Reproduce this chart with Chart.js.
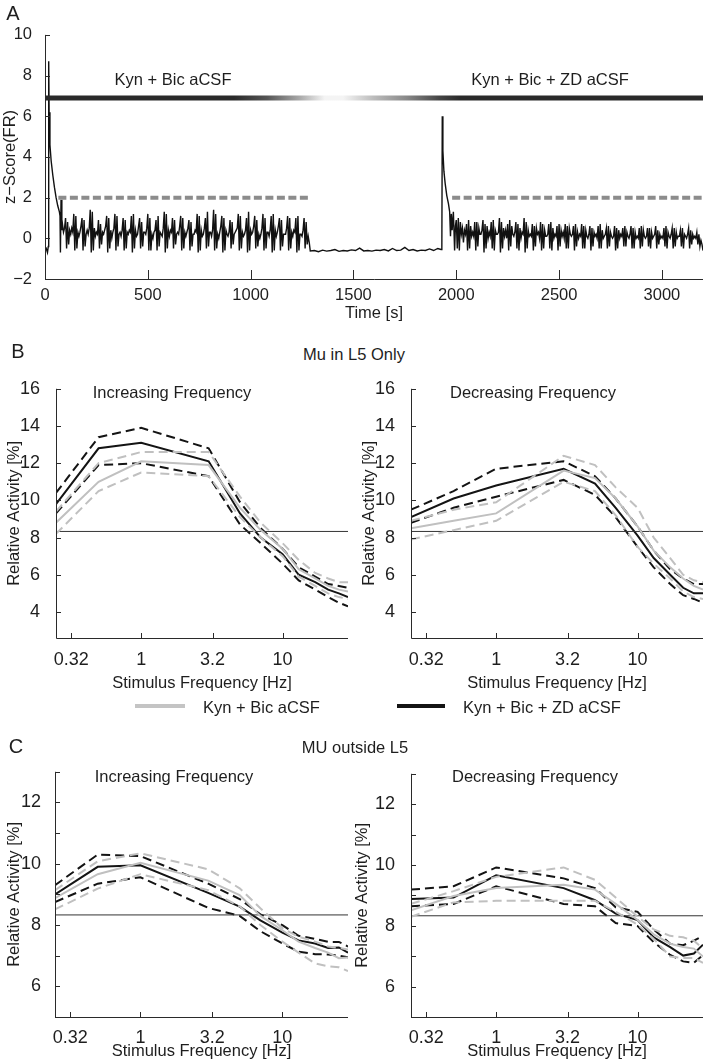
<!DOCTYPE html>
<html><head><meta charset="utf-8">
<script src="https://cdn.jsdelivr.net/npm/chart.js@4.4.1/dist/chart.umd.min.js"></script>
<style>
body{margin:0;background:#fff;}
#wrap{position:relative;width:704px;height:1063px;overflow:hidden;background:#fff;font-family:"Liberation Sans",Arial,sans-serif;color:#1e1e1e;}
canvas{position:absolute;}
.t{position:absolute;transform:translate(-50%,-50%);white-space:nowrap;font-size:16.5px;line-height:1;}
.lt{position:absolute;transform:translate(0,-50%);white-space:nowrap;font-size:16.5px;line-height:1;}
.sw{position:absolute;height:4px;transform:translate(0,-50%);}
.pl{position:absolute;transform:translate(-50%,-50%);font-size:20px;line-height:1;}
</style></head><body>
<div id="wrap">
  <canvas id="cA" width="704" height="310" style="left:0;top:20px"></canvas>
  <canvas id="cB1" width="352" height="330" style="left:0;top:370px"></canvas>
  <canvas id="cB2" width="352" height="330" style="left:352px;top:370px"></canvas>
  <canvas id="cC1" width="352" height="308" style="left:0;top:755px"></canvas>
  <canvas id="cC2" width="352" height="308" style="left:352px;top:755px"></canvas>

  <div class="pl" style="left:13px;top:13px">A</div>
  <div class="t" style="left:173px;top:79px">Kyn + Bic aCSF</div>
  <div class="t" style="left:550px;top:79px">Kyn + Bic + ZD aCSF</div>

  <div class="pl" style="left:18px;top:351px">B</div>
  <div class="t" style="left:354px;top:354px">Mu in L5 Only</div>
  <div class="t" style="left:172px;top:392px">Increasing Frequency</div>
  <div class="t" style="left:533px;top:392px">Decreasing Frequency</div>

  <div class="sw" style="left:135px;top:706px;width:50px;background:#c4c4c4"></div>
  <div class="lt" style="left:203px;top:707px">Kyn + Bic aCSF</div>
  <div class="sw" style="left:397px;top:706px;width:48px;background:#141414"></div>
  <div class="lt" style="left:463px;top:707px">Kyn + Bic + ZD aCSF</div>

  <div class="pl" style="left:16px;top:746px">C</div>
  <div class="t" style="left:355px;top:747px">MU outside L5</div>
  <div class="t" style="left:174px;top:776px">Increasing Frequency</div>
  <div class="t" style="left:535px;top:776px">Decreasing Frequency</div>
</div>
<script>
// ---------------- Panel A data ----------------
const timeTickVals = [0, 500, 1000, 1500, 2000, 2500, 3000];
const zTickVals = [-2, 0, 2, 4, 6, 8, 10];
const zTickLabels = ['\u22122', '0', '2', '4', '6', '8', '10'];
const barLevel = 6.9;
const barTimes = [0, 3200];
const thresholdLevel = 2;
const threshold1Times = [65, 1290];
const threshold2Times = [1980, 3200];

const onsetT = [0, 6, 12, 16, 18, 20, 24, 30, 38, 46, 54, 62, 70, 73, 75, 78, 82];
const onsetZ = [-0.6, -0.5, -0.7, -0.4, 8.7, 6.2, 4.6, 3.8, 3.1, 2.5, 2.0, 1.6, 1.3, 1.1, -0.7, 1.9, 0.4];
const burst1Start = 85, burst1Step = 5;
const burst1Z = [
  0.7, 0.3, 0.5, 1.0, -0.5, 0.8, -0.3, 0.4,   0.2, 0.5, 0.3, 1.2, -0.6, 1.1, -0.5, 0.3,
  0.1, 0.3, 0.6, 1.0, -0.6, 0.9, -0.4, 0.2,   0.4, 0.2, 0.5, 1.4, -0.7, 1.3, -0.6, 0.5,
  0.1, 0.3, 0.2, 0.9, -0.5, 0.7, -0.3, 0.3,   0.2, 0.4, 0.6, 1.1, -0.7, 1.0, -0.5, 0.4,
  0.0, 0.3, 0.5, 1.2, -0.6, 1.1, -0.4, 0.2,   0.3, 0.1, 0.4, 1.0, -0.6, 0.9, -0.5, 0.3,
  0.2, 0.4, 0.3, 1.1, -0.7, 1.2, -0.5, 0.4,   0.1, 0.2, 0.6, 1.0, -0.5, 0.8, -0.4, 0.3,
  0.3, 0.2, 0.5, 1.2, -0.6, 1.0, -0.6, 0.2,   0.0, 0.3, 0.4, 0.9, -0.6, 1.1, -0.4, 0.3,
  0.2, 0.1, 0.5, 1.3, -0.7, 1.2, -0.5, 0.4,   0.1, 0.4, 0.3, 1.0, -0.5, 0.9, -0.3, 0.2,
  0.3, 0.2, 0.6, 1.1, -0.6, 1.0, -0.5, 0.3,   0.1, 0.3, 0.5, 0.9, -0.6, 0.8, -0.4, 0.2,
  0.2, 0.4, 0.3, 1.2, -0.7, 1.1, -0.6, 0.4,   0.1, 0.2, 0.5, 1.0, -0.5, 1.3, -0.4, 0.3,
  0.3, 0.1, 0.4, 1.4, -0.6, 1.2, -0.5, 0.2,   0.0, 0.3, 0.6, 1.1, -0.7, 1.0, -0.6, 0.4,
  0.2, 0.1, 0.3, 0.9, -0.5, 0.8, -0.3, 0.2,   0.3, 0.4, 0.5, 1.2, -0.6, 1.1, -0.5, 0.3,
  0.1, 0.2, 0.4, 1.0, -0.7, 1.3, -0.6, 0.4,   0.2, 0.3, 0.6, 1.1, -0.5, 0.9, -0.4, 0.2,
  0.0, 0.2, 0.5, 1.2, -0.6, 1.0, -0.5, 0.3,   0.3, 0.1, 0.4, 1.1, -0.7, 1.2, -0.6, 0.4,
  0.1, 0.3, 0.6, 1.0, -0.6, 0.9, -0.4, 0.2,   0.2, 0.2, 0.5, 1.1, -0.6, 1.0, -0.5, 0.3,
  0.1, 0.4, 0.3, 1.0, -0.7, 1.1, -0.6, 0.2,   0.2, 0.1, 0.4, 1.0, -0.5, 0.8, -0.3, 0.1,
  -0.2];
const quietStart = 1290, quietStep = 20;
const quietZ = [-0.62, -0.6, -0.66, -0.58, -0.63, -0.6, -0.55, -0.64, -0.6, -0.62,
  -0.57, -0.6, -0.48, -0.62, -0.6, -0.63, -0.58, -0.6, -0.55, -0.62,
  -0.5, -0.6, -0.58, -0.45, -0.6, -0.55, -0.62, -0.58, -0.6, -0.52, -0.6, -0.5];
const spike2T = [1926, 1930, 1932, 1935, 1940, 1946, 1954, 1962, 1968, 1972, 1976, 1980, 1986, 1992, 1996];
const spike2Z = [-0.55, -0.5, 6.0, 4.3, 3.3, 2.7, 2.1, 1.7, 1.3, 0.1, 1.2, 0.4, 1.3, -0.6, 0.6];
const burst2Start = 2000, burst2Step = 5;
const burst2Z = [
  0.9, -0.5, 1.0, -0.6, 0.8, 0.2, 0.5, -0.2,   0.4, 0.2, 0.7, -0.6, 0.9, -0.5, 0.6, 0.1,
  0.3, 0.1, 0.8, -0.6, 0.8, -0.4, 0.5, 0.2,    0.2, 0.4, 0.9, -0.7, 0.7, -0.5, 0.6, 0.0,
  0.3, 0.1, 0.8, -0.5, 0.9, -0.6, 0.4, 0.2,    0.2, 0.3, 1.0, -0.7, 0.8, -0.5, 0.5, 0.1,
  0.4, 0.0, 0.7, -0.6, 0.9, -0.4, 0.6, 0.2,    0.1, 0.3, 0.8, -0.5, 0.7, -0.6, 0.5, 0.0,
  0.3, 0.2, 1.0, -0.7, 0.8, -0.5, 0.4, 0.1,    0.2, 0.1, 0.7, -0.6, 0.6, -0.4, 0.5, 0.2,
  0.3, 0.0, 0.8, -0.6, 0.7, -0.5, 0.4, 0.1,    0.1, 0.2, 0.7, -0.5, 0.8, -0.6, 0.5, 0.0,
  0.2, 0.1, 0.6, -0.6, 0.7, -0.4, 0.4, 0.1,    0.3, 0.0, 0.7, -0.5, 0.6, -0.5, 0.5, 0.2,
  0.1, 0.2, 0.6, -0.6, 0.7, -0.4, 0.3, 0.0,    0.2, 0.1, 0.7, -0.5, 0.6, -0.5, 0.4, 0.1,
  0.0, 0.2, 0.6, -0.6, 0.5, -0.4, 0.3, 0.1,    0.2, 0.0, 0.6, -0.5, 0.7, -0.5, 0.4, 0.0,
  0.1, 0.2, 0.5, -0.5, 0.6, -0.4, 0.3, 0.1,    0.0, 0.1, 0.6, -0.6, 0.5, -0.5, 0.4, 0.0,
  0.2, 0.1, 0.5, -0.4, 0.6, -0.4, 0.3, 0.1,    0.0, 0.2, 0.6, -0.5, 0.5, -0.5, 0.3, 0.0,
  0.1, 0.0, 0.5, -0.5, 0.6, -0.4, 0.4, 0.1,    0.0, 0.1, 0.5, -0.4, 0.5, -0.5, 0.3, 0.0,
  0.1, 0.2, 0.6, -0.5, 0.4, -0.3, 0.2, 0.0,    0.1, 0.0, 0.5, -0.4, 0.6, -0.5, 0.3, 0.1,
  0.0, 0.2, 0.5, -0.5, 0.5, -0.4, 0.3, 0.0,    0.1, 0.1, 0.4, -0.4, 0.5, -0.5, 0.2, 0.1,
  0.0, 0.2, 0.5, -0.5, 0.4, -0.3, 0.2, 0.0,    0.1, 0.0, 0.3, -0.3, 0.2, -0.4, -0.1, -0.3,
  -0.6];

// ---------------- Panels B / C data ----------------
const freqs = [0.25, 0.5, 1, 3, 5, 7, 10, 13, 17, 21, 25, 29];
const freqTickVals = [0.32, 1, 3.2, 10];
const freqTickLabels = ['0.32', '1', '3.2', '10'];
const chanceLevel = 8.33;

const bIncGray    = [8.8, 11.0, 12.1, 11.9, 9.6, 8.4, 7.4, 6.3, 5.8, 5.4, 5.2, 5.1];
const bIncGrayHi  = [9.4, 12.0, 12.6, 12.6, 10.2, 8.8, 7.7, 6.8, 6.1, 5.8, 5.6, 5.6];
const bIncGrayLo  = [8.2, 10.5, 11.5, 11.3, 9.1, 8.0, 7.0, 5.9, 5.4, 5.0, 4.8, 4.7];
const bIncBlack   = [9.8, 12.8, 13.1, 12.1, 9.3, 8.0, 7.1, 6.0, 5.6, 5.2, 5.0, 4.8];
const bIncBlackHi = [10.4, 13.4, 13.9, 12.8, 9.9, 8.5, 7.4, 6.4, 5.9, 5.5, 5.4, 5.3];
const bIncBlackLo = [9.3, 11.9, 12.0, 11.3, 8.7, 7.7, 6.6, 5.7, 5.2, 4.8, 4.5, 4.3];

const bDecGray    = [8.5, 8.9, 9.3, 11.6, 11.2, 10.1, 8.6, 7.3, 6.4, 5.8, 5.4, 5.2];
const bDecGrayHi  = [8.9, 9.5, 9.9, 12.4, 11.9, 10.7, 9.6, 8.0, 6.9, 6.0, 5.7, 5.6];
const bDecGrayLo  = [7.9, 8.4, 8.9, 11.0, 10.5, 9.2, 7.5, 6.6, 5.8, 5.1, 4.8, 4.7];
const bDecBlack   = [9.1, 10.1, 10.8, 11.7, 10.9, 9.6, 8.1, 6.9, 6.0, 5.3, 5.0, 5.0];
const bDecBlackHi = [9.5, 10.5, 11.7, 12.1, 11.3, 10.1, 8.6, 7.3, 6.3, 5.8, 5.5, 5.5];
const bDecBlackLo = [8.8, 9.6, 10.2, 11.1, 10.3, 9.1, 7.5, 6.4, 5.5, 4.9, 4.7, 4.5];

const cIncGray    = [8.88, 9.66, 10.03, 9.45, 8.98, 8.3, 7.83, 7.46, 7.25, 7.1, 6.92, 6.94];
const cIncGrayHi  = [9.14, 10.08, 10.34, 9.82, 9.2, 8.55, 7.9, 7.62, 7.46, 7.3, 7.25, 7.2];
const cIncGrayLo  = [8.51, 9.19, 9.66, 9.14, 8.61, 8.0, 7.46, 7.1, 6.75, 6.65, 6.62, 6.5];
const cIncBlack   = [9.0, 9.9, 9.95, 9.05, 8.6, 8.15, 7.75, 7.5, 7.4, 7.25, 7.27, 7.1];
const cIncBlackHi = [9.3, 10.3, 10.25, 9.35, 8.85, 8.35, 8.0, 7.65, 7.55, 7.45, 7.45, 7.3];
const cIncBlackLo = [8.75, 9.35, 9.56, 8.56, 8.3, 7.8, 7.4, 7.13, 7.05, 7.04, 7.0, 6.95];

const cDecGray    = [8.51, 8.98, 9.24, 9.35, 9.19, 8.72, 8.19, 7.72, 7.41, 7.3, 7.25, 6.99];
const cDecGrayHi  = [8.72, 9.14, 9.61, 9.92, 9.51, 8.93, 8.3, 7.88, 7.67, 7.62, 7.51, 7.25];
const cDecGrayLo  = [8.3, 8.77, 8.82, 8.82, 8.82, 8.46, 8.04, 7.57, 6.99, 6.94, 6.94, 6.78];
const cDecBlack   = [8.88, 8.93, 9.66, 9.24, 8.84, 8.4, 8.19, 7.62, 7.3, 7.02, 7.09, 7.38];
const cDecBlackHi = [9.19, 9.3, 9.92, 9.56, 9.24, 8.61, 8.46, 7.88, 7.41, 7.36, 7.51, 7.67];
const cDecBlackLo = [8.64, 8.72, 9.3, 8.72, 8.64, 8.09, 7.99, 7.46, 7.04, 6.83, 6.78, 7.04];

const bTickVals = [4, 6, 8, 10, 12, 14, 16];
const cTickVals = [5, 6, 7, 8, 9, 10, 11, 12, 13];

// ---------------- styling / helpers ----------------
const FAM = '"Liberation Sans", Arial, sans-serif';
const FONT = {family: FAM, size: 16.5};
const TICKFONT_A = {family: FAM, size: 16.5};
const TICKFONT = {family: FAM, size: 18};
const TXT = '#1e1e1e';
const AXIS = '#2a2a2a';
const GRAY = '#c0c0c0', BLACK = '#141414';

const matlabAxes = {
  id: 'matlabAxes',
  afterDatasetsDraw(chart, args, o) {
    const {ctx, chartArea: {left, right, top, bottom}, scales: {x, y}} = chart;
    ctx.save();
    ctx.strokeStyle = AXIS; ctx.lineWidth = 1;
    ctx.beginPath();
    ctx.moveTo(left + 0.5, top); ctx.lineTo(left + 0.5, bottom + 0.5); ctx.lineTo(right, bottom + 0.5);
    x.ticks.forEach(t => { const p = Math.round(x.getPixelForValue(t.value)) + 0.5; ctx.moveTo(p, bottom); ctx.lineTo(p, bottom - o.xLen); });
    y.ticks.forEach(t => { const p = Math.round(y.getPixelForValue(t.value)) + 0.5; ctx.moveTo(left, p); ctx.lineTo(left + o.yLen, p); });
    ctx.stroke();
    ctx.restore();
  }
};

function pts(xs, ys) { return xs.map((v, i) => ({x: v, y: ys[i]})); }
function regular(start, step, ys) { return ys.map((v, i) => ({x: start + i * step, y: v})); }
function ser(ys, color, dashed) {
  return {data: pts(freqs, ys), borderColor: color, borderWidth: 2, borderDash: dashed ? [9, 5] : [],
    pointRadius: 0, fill: false, tension: 0};
}

// ---------------- Panel A chart ----------------
const trace = [].concat(pts(onsetT, onsetZ), regular(burst1Start, burst1Step, burst1Z),
  regular(quietStart, quietStep, quietZ), pts(spike2T, spike2Z), regular(burst2Start, burst2Step, burst2Z));

const barStops = [[0, '#2a2a2a'], [920, '#2a2a2a'], [1080, '#555'], [1240, '#aaa'], [1360, '#f4f4f4'],
  [1450, '#f4f4f4'], [1600, '#bbb'], [1760, '#888'], [1920, '#444'], [2020, '#2a2a2a'], [3200, '#2a2a2a']];

new Chart(document.getElementById('cA'), {
  type: 'line',
  data: {datasets: [
    {data: pts(barTimes, [barLevel, barLevel]), borderWidth: 5, pointRadius: 0,
     borderColor: (c) => {
       const ch = c.chart, xs = ch.scales.x;
       if (!ch.chartArea || !xs) return '#2a2a2a';
       const x0 = xs.getPixelForValue(barTimes[0]), x1 = xs.getPixelForValue(barTimes[1]);
       const g = ch.ctx.createLinearGradient(x0, 0, x1, 0);
       barStops.forEach(([t, col]) => g.addColorStop((t - barTimes[0]) / (barTimes[1] - barTimes[0]), col));
       return g;
     }},
    {data: pts(threshold1Times, [thresholdLevel, thresholdLevel]), borderColor: '#8c8c8c', borderWidth: 4, borderDash: [8, 3.5], pointRadius: 0},
    {data: pts(threshold2Times, [thresholdLevel, thresholdLevel]), borderColor: '#8c8c8c', borderWidth: 4, borderDash: [8, 3.5], pointRadius: 0},
    {data: trace, borderColor: '#111', borderWidth: 1.4, pointRadius: 0, tension: 0}
  ]},
  options: {
    responsive: false, animation: false, events: [],
    layout: {padding: {top: 13, right: 1, left: 0, bottom: 0}},
    plugins: {legend: {display: false}, tooltip: {enabled: false}, matlabAxes: {xLen: 9, yLen: 5}},
    scales: {
      x: {type: 'linear', min: 0, max: 3200, grid: {display: false}, border: {display: false},
        afterBuildTicks: s => { s.ticks = timeTickVals.map(v => ({value: v})); },
        afterFit: s => { s.height = 51; },
        ticks: {autoSkip: false, maxRotation: 0, padding: -1, font: TICKFONT_A, color: TXT, callback: v => String(v)},
        title: {display: true, text: 'Time [s]', font: FONT, color: TXT, padding: {top: 0, bottom: 7}}},
      y: {type: 'linear', min: -2, max: 10, grid: {display: false}, border: {display: false},
        afterBuildTicks: s => { s.ticks = zTickVals.map(v => ({value: v})); },
        afterFit: s => { s.width = 45; },
        ticks: {padding: 5, font: TICKFONT_A, color: TXT, callback: v => zTickLabels[zTickVals.indexOf(v)]},
        title: {display: true, text: 'z\u2212Score(FR)', font: FONT, color: TXT, padding: {top: 1, bottom: 0}}}
    }
  },
  plugins: [matlabAxes]
});

// ---------------- Panels B / C charts ----------------
function freqChart(id, d, lay) {
  return new Chart(document.getElementById(id), {
    type: 'line',
    data: {datasets: [
      ser(d[1], GRAY, true), ser(d[2], GRAY, true), ser(d[0], GRAY, false),
      {data: pts([freqs[0], freqs[freqs.length - 1]], [chanceLevel, chanceLevel]), borderColor: '#333', borderWidth: 1, pointRadius: 0},
      ser(d[4], BLACK, true), ser(d[5], BLACK, true), ser(d[3], BLACK, false)
    ]},
    options: {
      responsive: false, animation: false, events: [],
      layout: {padding: {top: 10, right: lay.right, left: 0, bottom: 0}},
      plugins: {legend: {display: false}, tooltip: {enabled: false}, matlabAxes: {xLen: 5, yLen: 5}},
      scales: {
        x: {type: 'logarithmic', min: freqs[0], max: freqs[freqs.length - 1], grid: {display: false}, border: {display: false},
          afterBuildTicks: s => { s.ticks = freqTickVals.map(v => ({value: v})); },
          afterFit: s => { s.height = lay.xh; },
          ticks: {autoSkip: false, maxRotation: 0, padding: lay.xpad, font: TICKFONT, color: TXT,
            callback: v => { const i = freqTickVals.indexOf(v); return i >= 0 ? freqTickLabels[i] : ''; }},
          title: {display: true, text: 'Stimulus Frequency [Hz]', font: FONT, color: TXT, padding: {top: 0, bottom: lay.xtp}}},
        y: {type: 'linear', min: lay.ymin, max: lay.ymax, grid: {display: false}, border: {display: false},
          afterBuildTicks: s => { s.ticks = lay.yticks.map(v => ({value: v})); },
          afterFit: s => { s.width = lay.yw; },
          ticks: {padding: lay.ypad, font: TICKFONT, color: TXT, callback: v => (v % 2 === 0 ? String(v) : '')},
          title: {display: true, text: 'Relative Activity [%]', font: FONT, color: TXT, padding: {top: lay.ytp, bottom: 0}}}
      }
    },
    plugins: [matlabAxes]
  });
}

freqChart('cB1', [bIncGray, bIncGrayHi, bIncGrayLo, bIncBlack, bIncBlackHi, bIncBlackLo],
  {right: 4, yw: 56, xh: 62, xpad: 3, xtp: 7, ypad: 8, ytp: 5, ymin: 2.6, ymax: 16, yticks: bTickVals});
freqChart('cB2', [bDecGray, bDecGrayHi, bDecGrayLo, bDecBlack, bDecBlackHi, bDecBlackLo],
  {right: 1, yw: 59, xh: 62, xpad: 3, xtp: 7, ypad: 8, ytp: 8, ymin: 2.6, ymax: 16, yticks: bTickVals});
freqChart('cC1', [cIncGray, cIncGrayHi, cIncGrayLo, cIncBlack, cIncBlackHi, cIncBlackLo],
  {right: 4, yw: 55, xh: 46, xpad: 2, xtp: 2, ypad: 6, ytp: 5, ymin: 5, ymax: 13, yticks: cTickVals});
freqChart('cC2', [cDecGray, cDecGrayHi, cDecGrayLo, cDecBlack, cDecBlackHi, cDecBlackLo],
  {right: 1, yw: 59, xh: 46, xpad: 2, xtp: 2, ypad: 8, ytp: 1, ymin: 5, ymax: 13, yticks: cTickVals});
</script>
</body></html>
